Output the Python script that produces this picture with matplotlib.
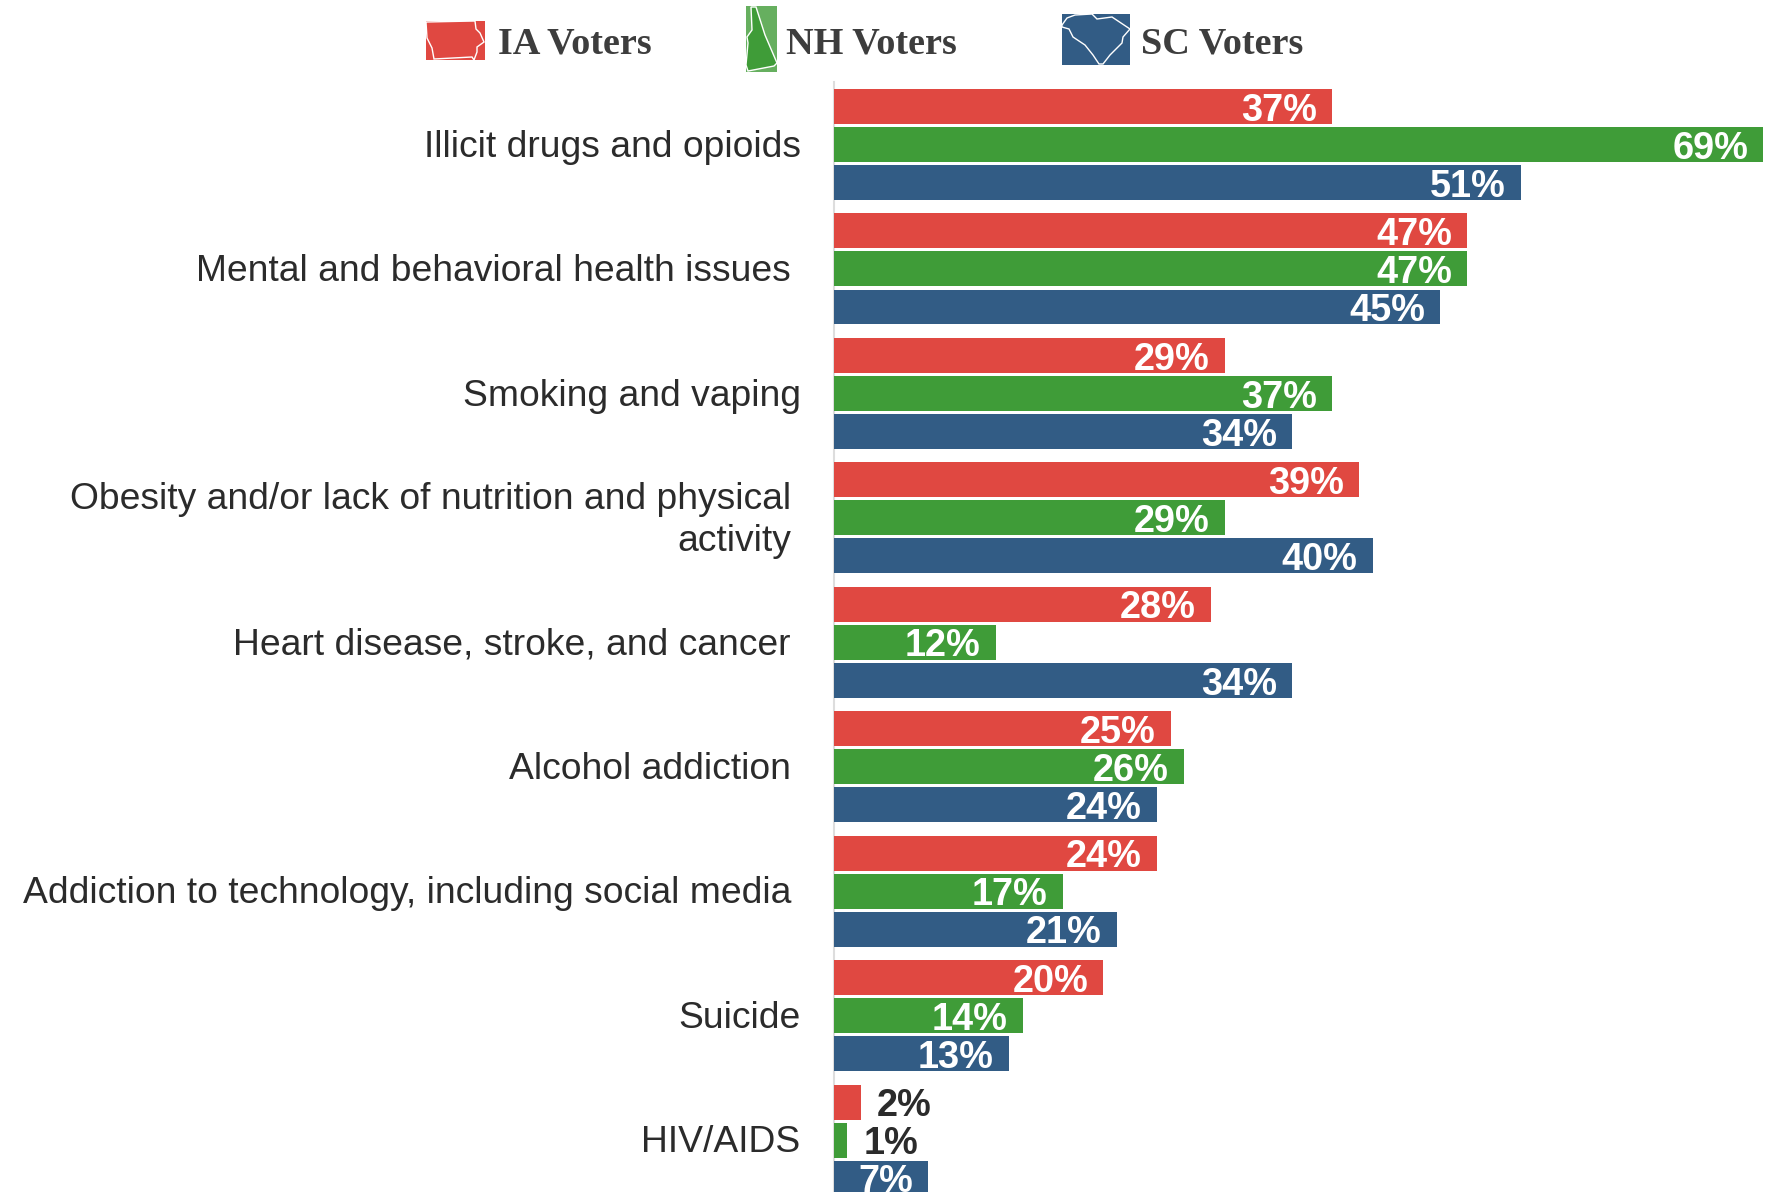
import numpy as np
import matplotlib
matplotlib.use("Agg")
import matplotlib.pyplot as plt
from matplotlib.patches import Rectangle, Polygon

plt.rcParams['font.family'] = ['Liberation Sans', 'DejaVu Sans']

categories = [
    'Illicit drugs and opioids',
    'Mental and behavioral health issues',
    'Smoking and vaping',
    'Obesity and/or lack of nutrition and physical\nactivity',
    'Heart disease, stroke, and cancer',
    'Alcohol addiction',
    'Addiction to technology, including social media',
    'Suicide',
    'HIV/AIDS',
]
ia_values = [37, 47, 29, 39, 28, 25, 24, 20, 2]
nh_values = [69, 47, 37, 29, 12, 26, 17, 14, 1]
sc_values = [51, 45, 34, 40, 34, 24, 21, 13, 7]
series_names = ['IA Voters', 'NH Voters', 'SC Voters']

RED = '#E04841'
GREEN = '#3F9C38'
BLUE = '#325C85'
DARK = '#2B2B2B'

W, H = 1772, 1192
fig = plt.figure(figsize=(W / 100, H / 100), dpi=100, facecolor='white')

# bars axes, lined up with the pixel grid of the reference
ax_left, ax_top = 834, 82
pitch = 124.45
first_center = 144.5
ax = fig.add_axes([ax_left / W, 0, (W - ax_left) / W, (H - ax_top) / H])
ax.set_xlim(0, (W - ax_left) / 13.47)
ax.set_ylim((H - first_center) / pitch, (ax_top - first_center) / pitch)

y = np.arange(len(categories))
offset = 0.3057
height = 0.281
for vals, shift, col in [(ia_values, -offset, RED), (nh_values, 0, GREEN), (sc_values, offset, BLUE)]:
    bars = ax.barh(y + shift, vals, height=height, color=col, zorder=2)
    for b, v in zip(bars, vals):
        cy = b.get_y() + b.get_height() / 2
        if v >= 7:
            ax.annotate(f'{v}%', (v, cy), xytext=(-11, -3), textcoords='offset points',
                        ha='right', va='center', color='white', fontsize=27.3, fontweight='bold')
        else:
            ax.annotate(f'{v}%', (v, cy), xytext=(11.5, -3), textcoords='offset points',
                        ha='left', va='center', color=DARK, fontsize=27.3, fontweight='bold')

# some labels sit a little further from the axis than others
label_gaps = [24, 31, 24, 31, 31, 31, 31, 24, 24]
ax.set_yticks(y)
ax.set_yticklabels([])
for i, (name, gap) in enumerate(zip(categories, label_gaps)):
    ax.annotate(name, (0, i), xytext=(-gap, -2), textcoords='offset points',
                ha='right', va='center', color=DARK, fontsize=26.8, linespacing=1.24,
                annotation_clip=False)

ax.tick_params(left=False, bottom=False, labelbottom=False)
for s in ['top', 'right', 'bottom']:
    ax.spines[s].set_visible(False)
ax.spines['left'].set_color('#DDDDDD')
ax.spines['left'].set_linewidth(1.5)
ax.spines['left'].set_zorder(1)

# legend with state shaped icons, drawn in pixel coordinates
lg = fig.add_axes([0, 0, 1, 1], zorder=5)
lg.set_xlim(0, W)
lg.set_ylim(H, 0)
lg.axis('off')

ia_shape = [(426, 22), (475, 21), (476, 29), (480, 33), (484, 42), (477, 47), (477, 52), (474, 60),
            (472, 57), (434, 59), (432, 48), (427, 38)]
nh_shape = [(751, 7), (756, 7), (765, 35), (777, 63), (774, 66), (748, 71), (746, 65), (748, 43),
            (747, 37), (752, 30)]
sc_shape = [(1062, 25), (1067, 18), (1075, 15), (1092, 14), (1097, 19), (1112, 17), (1130, 29), (1123, 37),
            (1122, 43), (1110, 55), (1103, 64), (1099, 64), (1093, 55), (1085, 45), (1073, 37), (1069, 29),
            (1062, 27)]
icons = [
    ((426, 21, 59, 39), ia_shape, RED, RED, 498),
    ((746, 6, 31, 66), nh_shape, '#66AF5F', GREEN, 786),
    ((1062, 14, 68, 51), sc_shape, BLUE, BLUE, 1141),
]
for (box, shape, bg, fg, tx), name in zip(icons, series_names):
    x0, y0, w, h = box
    lg.add_patch(Rectangle((x0, y0), w, h, facecolor=bg, edgecolor='none'))
    lg.add_patch(Polygon(shape, closed=True, facecolor=fg, edgecolor='white', linewidth=1))
    lg.text(tx, 44, name, ha='left', va='center', color='#3D3D3D', fontsize=27.5,
            fontweight='bold', family='Liberation Serif')

fig.savefig('out.png', dpi=100)
